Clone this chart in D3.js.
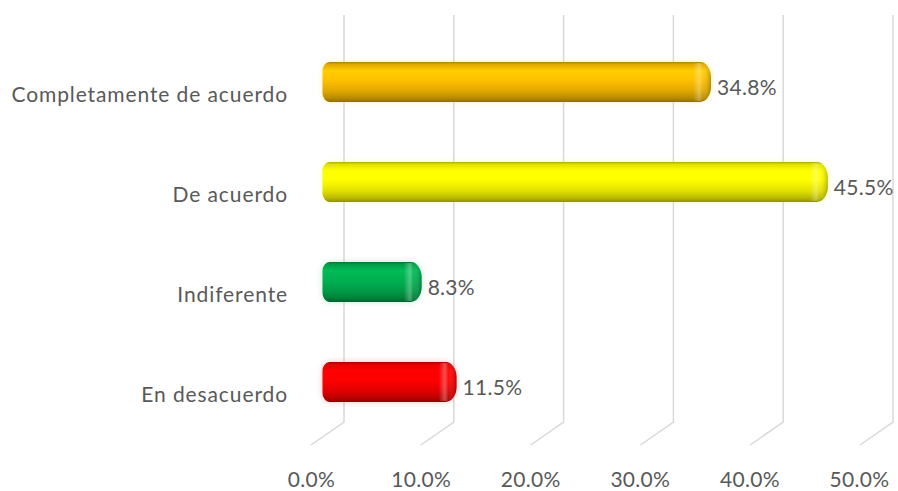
<!DOCTYPE html>
<html>
<head>
<meta charset="utf-8">
<script src="https://cdn.jsdelivr.net/npm/d3@7"></script>
<style>
  body { margin: 0; background: #ffffff; }
  text { font-family: Lato, "Open Sans", sans-serif; fill: #595959; }
</style>
</head>
<body>
<svg id="chart" width="898" height="491"></svg>
<script>
// Survey responses, share of answers per option
const categories = ["Completamente de acuerdo", "De acuerdo", "Indiferente", "En desacuerdo"];
const values = [0.348, 0.455, 0.083, 0.115];
const barColors = ["#FFC000", "#FFFF00", "#00B050", "#FF0000"];
const tickValues = [0, 0.1, 0.2, 0.3, 0.4, 0.5];
const tickLabels = ["0.0%", "10.0%", "20.0%", "30.0%", "40.0%", "50.0%"];

const svg = d3.select("#chart");
const defs = svg.append("defs");

// Three layers of the pseudo-3D frame: back wall, bars, floor labels
const xWall = d3.scaleLinear().domain([0, 0.5]).range([344, 893]);
const xBar = d3.scaleLinear().domain([0, 0.5]).range([331, 877]);
const xFloor = d3.scaleLinear().domain([0, 0.5]).range([311, 859]);
const y = d3.scaleBand().domain(categories).range([32, 432])
  .paddingInner(0.6).paddingOuter(0.3);

const wallTop = 15, wallBottom = 422, floorDx = -33, floorDy = 23;

// Gridlines: up the back wall, then folding forward across the floor
svg.append("g").selectAll("path").data(tickValues).join("path")
  .attr("d", d => {
    const x = xWall(d);
    return `M${x},${wallTop}V${wallBottom}l${floorDx},${floorDy}`;
  })
  .attr("fill", "none")
  .attr("stroke", "#d9d9d9")
  .attr("stroke-width", 1.5);

// Tick labels along the front edge of the floor
const fmt = d3.scaleOrdinal().domain(tickValues).range(tickLabels);
const axis = d3.axisBottom(xFloor).tickValues(tickValues).tickSize(0).tickPadding(0)
  .tickFormat(d => fmt(d));
const axisG = svg.append("g").attr("transform", "translate(0,472)").call(axis);
axisG.select(".domain").remove();
axisG.selectAll("text")
  .attr("font-family", "Lato, 'Open Sans', sans-serif")
  .attr("font-size", 21)
  .attr("letter-spacing", 0.3)
  .attr("fill", "#595959");

// Cylinder shading per colour
barColors.forEach((c, i) => {
  const base = d3.color(c);
  const g = defs.append("linearGradient").attr("id", "cyl" + i)
    .attr("x1", 0).attr("y1", 0).attr("x2", 0).attr("y2", 1);
  [[0, base.darker(1.1)], [0.06, base.darker(0.35)], [0.22, base.brighter(0.2)],
   [0.45, base], [0.72, base.darker(0.35)], [0.9, base.darker(0.9)], [1, base.darker(1.6)]]
    .forEach(([o, col]) => g.append("stop").attr("offset", o).attr("stop-color", col.formatHex()));
});

const capGrad = defs.append("linearGradient").attr("id", "capShade")
  .attr("x1", 0).attr("y1", 0).attr("x2", 1).attr("y2", 0);
capGrad.append("stop").attr("offset", 0).attr("stop-color", "#ffffff").attr("stop-opacity", 0);
capGrad.append("stop").attr("offset", 0.35).attr("stop-color", "#ffffff").attr("stop-opacity", 0.3);
capGrad.append("stop").attr("offset", 0.55).attr("stop-color", "#ffffff").attr("stop-opacity", 0.05);
capGrad.append("stop").attr("offset", 1).attr("stop-color", "#000000").attr("stop-opacity", 0.25);

defs.append("filter").attr("id", "glow").attr("x", "-10%").attr("y", "-50%")
  .attr("width", "120%").attr("height", "200%")
  .append("feGaussianBlur").attr("stdDeviation", 3);

function cylinderPath(x0, x1, t, b) {
  const rl = 7, ryl = 9, rr = 11, ry = 15;
  return `M${x0 + rl},${t}H${x1 - rr}A${rr},${ry} 0 0 1 ${x1},${t + ry}V${b - ry}` +
    `A${rr},${ry} 0 0 1 ${x1 - rr},${b}H${x0 + rl}A${rl},${ryl} 0 0 1 ${x0},${b - ryl}` +
    `V${t + ryl}A${rl},${ryl} 0 0 1 ${x0 + rl},${t}Z`;
}

const rows = categories.map((c, i) => ({ cat: c, value: values[i], i }));
const bars = svg.append("g").selectAll("g").data(rows).join("g");

bars.each(function (d) {
  const g = d3.select(this);
  const t = y(d.cat), b = t + y.bandwidth();
  const x0 = xBar(0) - 8.5, x1 = xBar(d.value);
  const shape = cylinderPath(x0, x1, t, b);
  g.append("path").attr("d", shape).attr("fill", barColors[d.i])
    .attr("opacity", 0.25).attr("filter", "url(#glow)");
  g.append("path").attr("d", shape).attr("fill", `url(#cyl${d.i})`);
  // rounded end cap highlight
  g.append("path")
    .attr("d", `M${x1 - 18},${t + 1}H${x1 - 11}A11,15 0 0 1 ${x1},${t + 15}V${b - 15}` +
      `A11,15 0 0 1 ${x1 - 11},${b - 1}H${x1 - 18}Z`)
    .attr("fill", "url(#capShade)");
});

// Category labels
svg.append("g").selectAll("text").data(rows).join("text")
  .attr("x", 288)
  .attr("y", d => y(d.cat) + y.bandwidth() / 2 + 15)
  .attr("text-anchor", "end")
  .attr("dominant-baseline", "middle")
  .attr("font-size", 21)
  .attr("letter-spacing", 0.9)
  .text(d => d.cat);

// Value labels at the end of each bar
svg.append("g").selectAll("text").data(rows).join("text")
  .attr("x", d => xBar(d.value) + 6)
  .attr("y", d => y(d.cat) + y.bandwidth() / 2 + 8)
  .attr("dominant-baseline", "middle")
  .attr("font-size", 21)
  .attr("letter-spacing", 0.3)
  .text(d => d3.format(".1%")(d.value));
</script>
</body>
</html>
